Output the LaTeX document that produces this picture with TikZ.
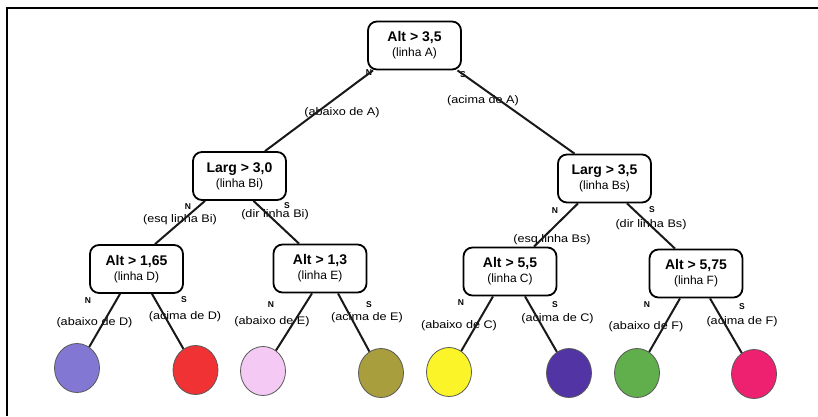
\documentclass[tikz,border=0pt]{standalone}
\usepackage{fontspec}
\setmainfont{Liberation Sans}
\newfontfamily\lblfont[FakeStretch=1.15]{Liberation Sans}
\usetikzlibrary{shapes.geometric}
\begin{document}
\begin{tikzpicture}[x=1pt,y=-1pt,
  testbox/.style={draw, line width=1.8pt, rounded corners=9pt, minimum width=93pt, minimum height=48pt, align=center, inner sep=0pt, fill=white},
  leaf/.style={ellipse, draw=black!65, line width=0.8pt, minimum width=45pt, minimum height=49pt, inner sep=0pt},
  edge/.style={line width=2pt, black!90},
  yn/.style={font=\bfseries\fontsize{8.5}{9}\selectfont, inner sep=0pt},
  lbl/.style={font=\lblfont\fontsize{11}{12}\selectfont, inner sep=0pt}
]
\newcommand{\tst}[2]{{\bfseries\fontsize{14}{16}\selectfont #1}\\[3pt]{\fontsize{12}{14}\selectfont #2}}
\useasboundingbox (0,0) rectangle (818,416);
\fill[white] (0,0) rectangle (818,416);
\draw[line width=2pt] (7,416) -- (7,8) -- (818,8);

% decision nodes
\node[testbox] (A)  at (414.5,45.5) {\tst{Alt > 3,5}{(linha A)}};
\node[testbox] (Bi) at (239.5,176)  {\tst{Larg > 3,0}{(linha Bi)}};
\node[testbox] (Bs) at (604.5,178.5){\tst{Larg > 3,5}{(linha Bs)}};
\node[testbox] (D)  at (136.5,269)  {\tst{Alt > 1,65}{(linha D)}};
\node[testbox] (E)  at (320,268.5)  {\tst{Alt > 1,3}{(linha E)}};
\node[testbox] (C)  at (510,271.5)  {\tst{Alt > 5,5}{(linha C)}};
\node[testbox] (F)  at (696,273.5)  {\tst{Alt > 5,75}{(linha F)}};

% leaves
\node[leaf, fill={rgb,255:red,130;green,120;blue,212}] (L1) at (77,368) {};
\node[leaf, fill={rgb,255:red,240;green,50;blue,52}]   (L2) at (195.5,370) {};
\node[leaf, fill={rgb,255:red,244;green,202;blue,244}] (L3) at (263,371) {};
\node[leaf, fill={rgb,255:red,168;green,158;blue,62}]  (L4) at (381,373) {};
\node[leaf, fill={rgb,255:red,250;green,244;blue,40}]  (L5) at (449,372) {};
\node[leaf, fill={rgb,255:red,82;green,52;blue,165}]   (L6) at (569,373) {};
\node[leaf, fill={rgb,255:red,96;green,174;blue,76}]   (L7) at (637,373) {};
\node[leaf, fill={rgb,255:red,238;green,32;blue,112}]  (L8) at (754,374) {};

% labels
\node[yn] (nA) at (369,73) {N};
\node[yn] (sA) at (463,75) {S};
\node[lbl] (tnA) at (342,113) {(abaixo de A)};
\node[lbl] (tsA) at (483,101) {(acima de A)};
\node[yn] (nBi) at (188,207) {N};
\node[yn] (sBi) at (287,206) {S};
\node[lbl] (tnBi) at (180,220) {(esq linha Bi)};
\node[lbl] (tsBi) at (275,215) {(dir linha Bi)};
\node[yn] (nBs) at (555,211) {N};
\node[yn] (sBs) at (652,210) {S};
\node[lbl] (tnBs) at (552,240) {(esq linha Bs)};
\node[lbl] (tsBs) at (651,225) {(dir linha Bs)};
\node[yn] (nD) at (88,301) {N};
\node[yn] (sD) at (184,300) {S};
\node[lbl] (tnD) at (94.5,323) {(abaixo de D)};
\node[lbl] (tsD) at (185,317) {(acima de D)};
\node[yn] (nE) at (271,305) {N};
\node[yn] (sE) at (369,305) {S};
\node[lbl] (tnE) at (272,322) {(abaixo de E)};
\node[lbl] (tsE) at (367,318) {(acima de E)};
\node[yn] (nC) at (461,303) {N};
\node[yn] (sC) at (555,305) {S};
\node[lbl] (tnC) at (459,326) {(abaixo de C)};
\node[lbl] (tsC) at (557.5,319) {(acima de C)};
\node[yn] (nF) at (647,305) {N};
\node[yn] (sF) at (742,307) {S};
\node[lbl] (tnF) at (646,327) {(abaixo de F)};
\node[lbl] (tsF) at (742,322) {(acima de F)};

% edges
\draw[edge] ([xshift=-41.5pt]A.south) -- ([xshift=25.5pt]Bi.north);
\draw[edge] ([xshift=43pt]A.south) -- ([xshift=-30pt]Bs.north);
\draw[edge] ([xshift=-34.5pt]Bi.south) -- ([xshift=18.5pt]D.north);
\draw[edge] ([xshift=14pt]Bi.south) -- ([xshift=-21pt]E.north);
\draw[edge] ([xshift=-26.5pt]Bs.south) -- ([xshift=24pt]C.north);
\draw[edge] ([xshift=22.5pt]Bs.south) -- ([xshift=-21pt]F.north);
\draw[edge] ([xshift=-16.5pt]D.south) -- (L1);
\draw[edge] ([xshift=15.5pt]D.south) -- (L2);
\draw[edge] ([xshift=-8pt]E.south) -- (L3);
\draw[edge] ([xshift=18pt]E.south) -- (L4);
\draw[edge] ([xshift=-17pt]C.south) -- (L5);
\draw[edge] ([xshift=15pt]C.south) -- (L6);
\draw[edge] ([xshift=-16pt]F.south) -- (L7);
\draw[edge] ([xshift=14pt]F.south) -- (L8);
\end{tikzpicture}
\end{document}
